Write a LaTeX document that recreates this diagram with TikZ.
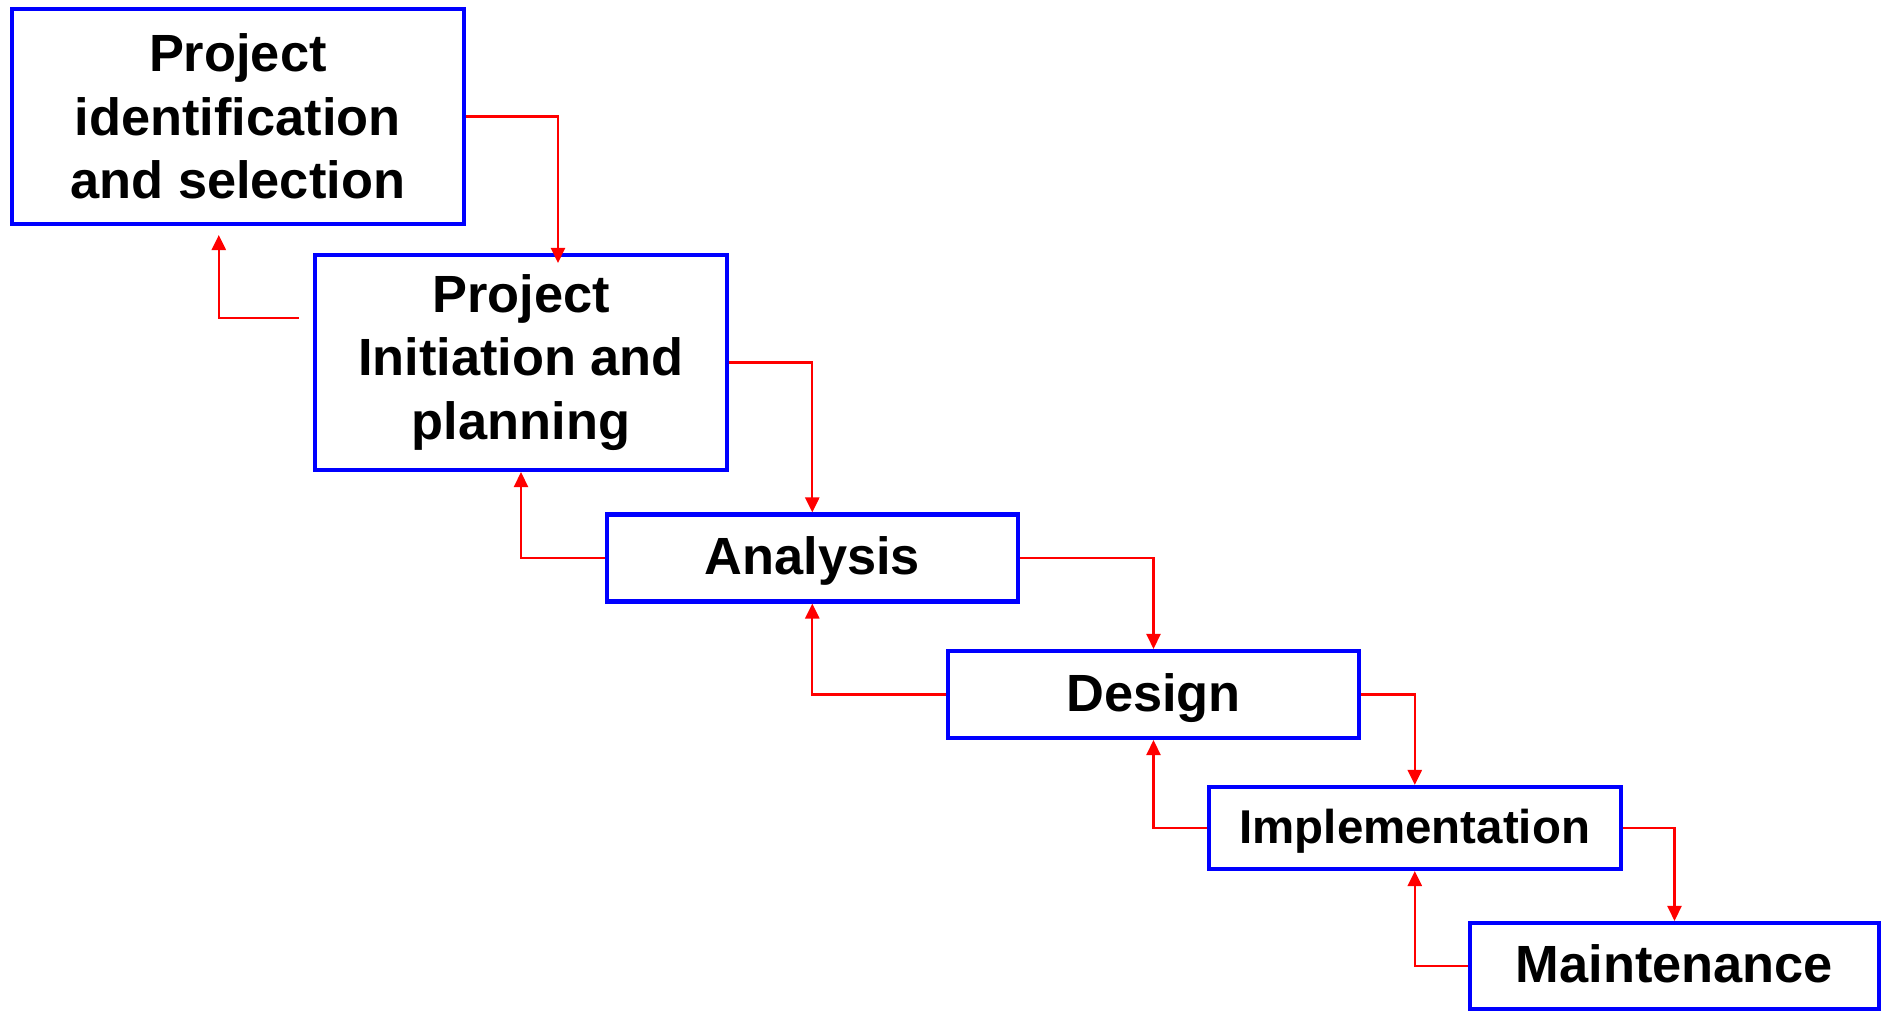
\documentclass[tikz,border=0pt]{standalone}
\usepackage{fontspec}
\setmainfont{Liberation Sans}
\usetikzlibrary{arrows.meta}
\definecolor{stageline}{HTML}{0000FF}
\definecolor{flowline}{HTML}{FF0000}
\tikzset{
  stage/.style={draw=stageline, line width=1.15pt, align=center, inner sep=0pt,
                font=\bfseries\fontsize{14.9}{18.1}\selectfont},
  onestage/.style={stage, text height=0.376cm, text depth=0.04cm},
  flow/.style={draw=flowline, line width=0.65pt,
               -{Triangle[length=1.5mm, width=1.4mm]}},
}

\begin{document}
\begin{tikzpicture}
    \useasboundingbox (0,0) rectangle (18.81,-10.11);
    \node[stage, minimum width=4.525cm, minimum height=2.15cm] (ident) at (2.378,-1.165) {Project\\identification\\and selection};
    \node[stage, minimum width=4.12cm, minimum height=2.15cm] (plan) at (5.21,-3.625) {Project\\Initiation and\\planning};
    \node[onestage, minimum width=4.115cm, minimum height=0.87cm] (analysis) at (8.123,-5.58) {Analysis};
    \node[onestage, minimum width=4.11cm, minimum height=0.87cm] (design) at (11.535,-6.945) {Design};
    \node[onestage, minimum width=4.115cm, minimum height=0.82cm, font=\bfseries\fontsize{13.5}{16}\selectfont,
          text height=0.34cm, text depth=0.035cm] (impl) at (14.148,-8.28) {Implementation};
    \node[onestage, minimum width=4.09cm, minimum height=0.86cm] (maint) at (16.745,-9.66) {Maintenance};
    \draw[flow, shorten >=-1mm] (ident.east) -| ([xshift=3.7mm]plan.north);
    \draw[flow] (plan.east) -| (analysis.north);
    \draw[flow] (analysis.east) -| (design.north);
    \draw[flow] (design.east) -| (impl.north);
    \draw[flow] (impl.east) -| (maint.north);
    \draw[flow] ([xshift=-1.4mm, yshift=4.45mm]plan.west) -| ([xshift=-1.9mm, yshift=-0.9mm]ident.south);
    \draw[flow] (analysis.west) -| (plan.south);
    \draw[flow] (design.west) -| (analysis.south);
    \draw[flow] (impl.west) -| (design.south);
    \draw[flow] (maint.west) -| (impl.south);
\end{tikzpicture}
\end{document}
